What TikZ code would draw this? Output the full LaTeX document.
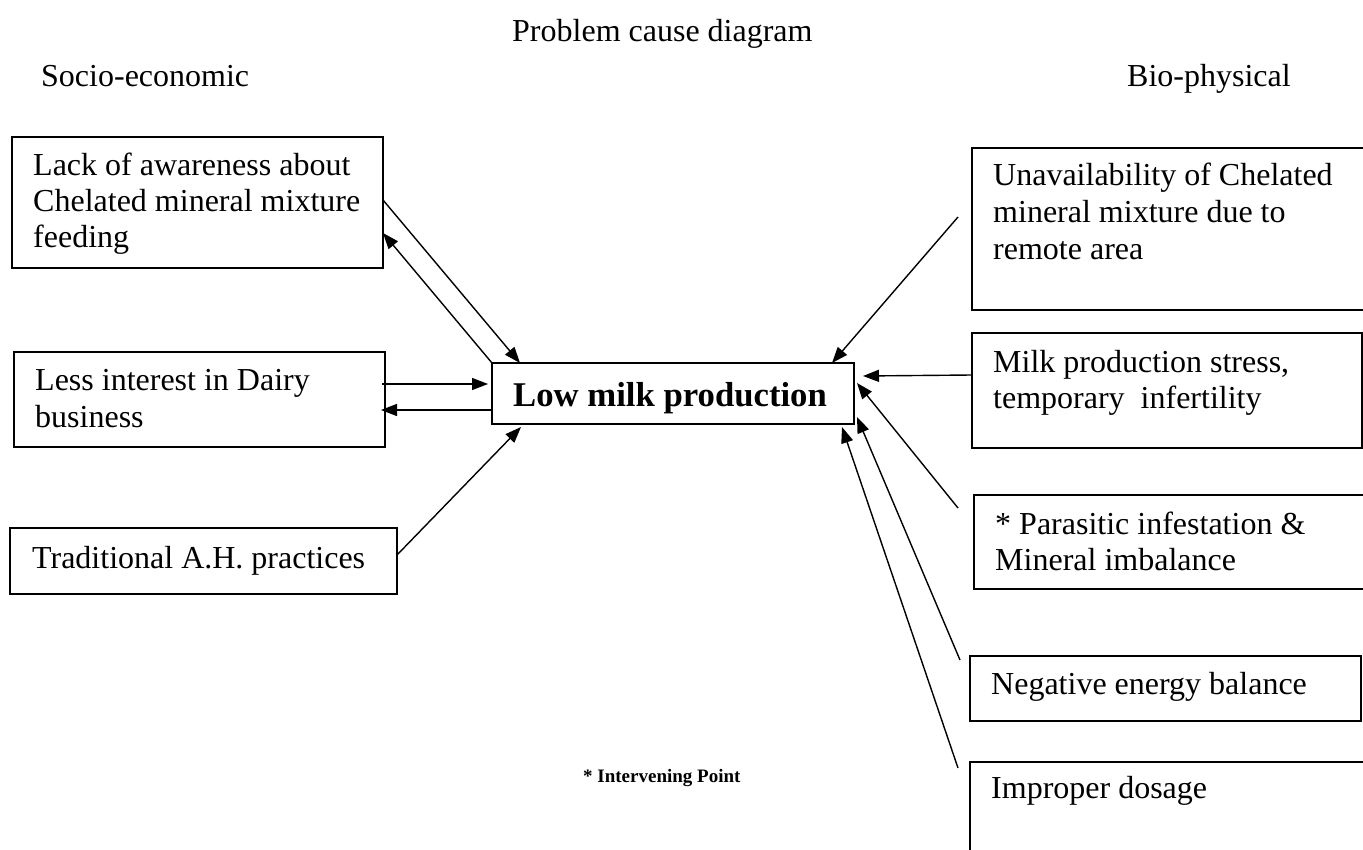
\documentclass[tikz,border=0pt]{standalone}
\usepackage{fontspec}
\setmainfont{Liberation Serif}
\usetikzlibrary{arrows.meta}
\begin{document}
\begin{tikzpicture}[x=1pt,y=-1pt,
  causebox/.style={draw, line width=1.6pt, inner sep=0pt, outer sep=0pt, anchor=north west},
  txt/.style={anchor=base west, inner sep=0pt, font=\fontsize{32}{36}\selectfont},
  conn/.style={line width=1.4pt, -{Triangle[length=16pt,width=12pt]}}]
\useasboundingbox (0,0) rectangle (1363,850);
\clip (0,0) rectangle (1363,850);
% headings
\node[txt] (title) at (512,42) {Problem cause diagram};
\node[txt] (socio) at (41,87) {Socio-economic};
\node[txt] (bio) at (1127,87) {Bio-physical};
% left boxes
\node[causebox, minimum width=371pt, minimum height=131pt] (b1) at (12,137) {};
\node[txt] (b1a) at (33,176) {Lack of awareness about};
\node[txt] (b1b) at (33,212) {Chelated mineral mixture};
\node[txt] (b1c) at (33,248) {feeding};
\node[causebox, minimum width=371pt, minimum height=95pt] (b2) at (14,352) {};
\node[txt] (b2a) at (35,390) {Less interest in Dairy};
\node[txt] (b2b) at (35,427) {business};
\node[causebox, minimum width=387pt, minimum height=66pt] (b3) at (10,528) {};
\node[txt] (b3a) at (32,568) {Traditional A.H. practices};
% centre
\node[causebox, minimum width=362pt, minimum height=61pt] (c) at (492,363) {};
\node[txt, font=\fontsize{34.7}{40}\selectfont\bfseries] (ct) at (513,406) {Low milk production};
% right boxes
\node[causebox, minimum width=420pt, minimum height=162pt] (r1) at (972,148) {};
\node[txt] (r1a) at (993,186) {Unavailability of Chelated};
\node[txt] (r1b) at (993,223) {mineral mixture due to};
\node[txt] (r1c) at (993,260) {remote area};
\node[causebox, minimum width=390pt, minimum height=115pt] (r2) at (972,333) {};
\node[txt] (r2a) at (993,372) {Milk production stress,};
\node[txt] (r2b) at (993,408) {temporary\ \ infertility};
\node[causebox, minimum width=420pt, minimum height=94pt] (r3) at (974,495) {};
\node[txt] (r3a) at (995,534) {* Parasitic infestation \&};
\node[txt] (r3b) at (995,570) {Mineral imbalance};
\node[causebox, minimum width=391pt, minimum height=65pt] (r4) at (970,656) {};
\node[txt] (r4a) at (991,694) {Negative energy balance};
\node[causebox, minimum width=420pt, minimum height=120pt] (r5) at (970,762) {};
\node[txt] (r5a) at (991,798) {Improper dosage};
% note
\node[txt, font=\fontsize{19}{23}\selectfont\bfseries] (note) at (583,782) {* Intervening Point};
% connectors left
\draw[conn] ([yshift=-63pt]b1.north east) -- ([xshift=28pt]c.north west);
\draw[conn] (c.north west) -- ([yshift=-96pt]b1.north east);
\draw[conn] ([xshift=-3pt,yshift=-32pt]b2.north east) -- ([xshift=-4pt,yshift=-21pt]c.north west);
\draw[conn] ([yshift=-47pt]c.north west) -- ([xshift=-4pt,yshift=-58pt]b2.north east);
\draw[conn] ([yshift=-27pt]b3.north east) -- ([xshift=29pt,yshift=-3pt]c.south west);
% connectors right
\draw[conn] ([xshift=-14pt,yshift=-69pt]r1.north west) -- ([xshift=-22pt]c.north east);
\draw[conn] ([yshift=-42pt]r2.north west) -- ([xshift=9pt,yshift=-13pt]c.north east);
\draw[conn] ([xshift=-16pt,yshift=-13pt]r3.north west) -- ([xshift=3pt,yshift=-20pt]c.north east);
\draw[conn] ([xshift=-10pt,yshift=-4pt]r4.north west) -- ([xshift=3pt,yshift=7pt]c.south east);
\draw[conn] ([xshift=-12pt,yshift=-6pt]r5.north west) -- ([xshift=-12pt,yshift=-3pt]c.south east);
\end{tikzpicture}
\end{document}
